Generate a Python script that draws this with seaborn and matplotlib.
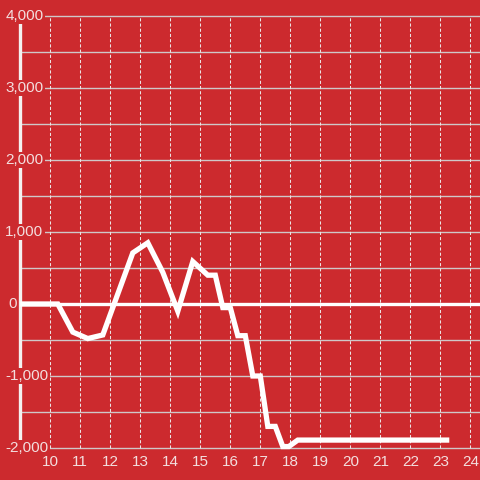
import matplotlib
matplotlib.use("Agg")
import matplotlib.pyplot as plt
import seaborn as sns
import pandas as pd

hours = [9, 10.25, 10.75, 11.25, 11.75, 12.75, 13.25, 13.75, 14.25, 14.75, 15.25, 15.5,
         15.75, 16.0, 16.25, 16.5, 16.75, 17.0, 17.25, 17.5, 17.75, 17.95, 18.25, 23.3]
values = [0, 0, -390, -480, -430, 710, 850, 440, -100, 590, 400, 400,
          -50, -50, -440, -440, -1000, -1000, -1700, -1700, -1980, -1980, -1890, -1890]
x_ticks = list(range(10, 25))
y_ticks = [4000, 3000, 2000, 1000, 0, -1000, -2000]
y_tick_labels = ["4,000", "3,000", "2,000", "1,000", "0", "-1,000", "-2,000"]
y_minor = [3500, 2500, 1500, 500, -500, -1500]

BG = "#cc2a2e"
LABEL = "#f3dede"
GRID_H = "#cfc8c8"
GRID_V = "#ece4e4"

sns.set_theme(style="white")
plt.rcParams["font.family"] = ["Liberation Sans", "DejaVu Sans"]

fig = plt.figure(figsize=(4.8, 4.8), dpi=100, facecolor=BG)
ax = fig.add_axes([0, 0, 1, 1])
ax.set_facecolor(BG)
for s in ax.spines.values():
    s.set_visible(False)
ax.set_xticks([])
ax.set_yticks([])

xl = (10 - 50.3 / 30, 10 + 429.7 / 30)
yl = (-176 / 0.072, 304 / 0.072)
ax.set_xlim(*xl)
ax.set_ylim(*yl)

# grid
ax.hlines(y_ticks + y_minor, 9, xl[1], colors=GRID_H, lw=1.0, zorder=1)
ax.vlines(x_ticks, -2000, 4000, colors=GRID_V, lw=0.75, linestyles=(0, (3, 2)), zorder=1)

# zero line and axis line
ax.hlines([0], 9, xl[1], colors="white", lw=2.4, zorder=2)
ax.vlines([9], -2000, 4000, colors="#f4f0f0", lw=2.4, zorder=2)

# y tick labels with background boxes
for v, lab in zip(y_ticks, y_tick_labels):
    xpos = 8.5 if v != 0 else 8.59
    ax.text(xpos, v, lab, ha="left", va="center", fontsize=11, color=LABEL, zorder=3,
            bbox=dict(facecolor=BG, edgecolor="none", pad=1.0))

# x tick labels
for t in x_ticks:
    ax.text(t, -2194, str(t), ha="center", va="center", fontsize=11, color=LABEL, zorder=3)

df = pd.DataFrame({"hour": hours, "value": values})
sns.lineplot(data=df, x="hour", y="value", sort=False, estimator=None, ax=ax,
             color="white", lw=3.8, zorder=5)
for ln in ax.get_lines():
    ln.set_solid_joinstyle("miter")
    ln.set_solid_capstyle("butt")
ax.set_xlabel("")
ax.set_ylabel("")
ax.set_xlim(*xl)
ax.set_ylim(*yl)

fig.savefig("out.png", dpi=100, facecolor=BG)
